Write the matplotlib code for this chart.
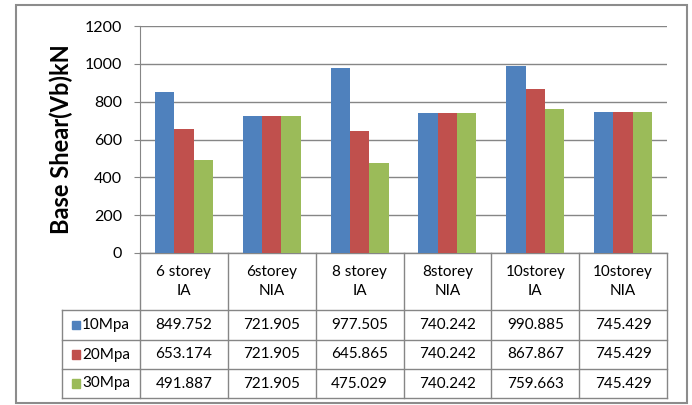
import numpy as np
import matplotlib.pyplot as plt
import matplotlib.transforms as mtransforms
from matplotlib.patches import Rectangle

plt.rcParams['font.family'] = ['Lato', 'DejaVu Sans']

#----------DATA----------
categories = ["6 storey\nIA", "6storey\nNIA", "8 storey\nIA", "8storey\nNIA", "10storey\nIA", "10storey\nNIA"]
series_names = ["10Mpa", "20Mpa", "30Mpa"]
mpa10 = [849.752, 721.905, 977.505, 740.242, 990.885, 745.429]
mpa20 = [653.174, 721.905, 645.865, 740.242, 867.867, 745.429]
mpa30 = [491.887, 721.905, 475.029, 740.242, 759.663, 745.429]
y_ticks = [0, 200, 400, 600, 800, 1000, 1200]

colors = ["#4F81BD", "#C0504D", "#9BBB59"]
grid_col = "#868686"

W, H = 692, 405
fig = plt.figure(figsize=(W / 100, H / 100), dpi=100)

# plot area in pixels
left, right, top, bottom = 140, 667, 26, 253
ax = fig.add_axes([left / W, 1 - bottom / H, (right - left) / W, (bottom - top) / H])

x = np.arange(len(categories))
bw = 0.22
all_series = [mpa10, mpa20, mpa30]
for i, vals in enumerate(all_series):
    ax.bar(x + (i - 1) * bw, vals, width=bw, color=colors[i], zorder=3)

ax.set_xlim(-0.5, len(categories) - 0.5)
ax.set_ylim(0, 1200)
ax.set_yticks(y_ticks)
ax.set_xticks([])
ax.tick_params(axis='y', labelsize=11.5, color=grid_col, length=4, pad=9)
ax.yaxis.grid(True, color=grid_col, linewidth=1, zorder=0)
for s in ["top", "right", "bottom"]:
    ax.spines[s].set_visible(False)
ax.spines["left"].set_color(grid_col)
ax.set_ylabel("Base Shear(Vb)kN", fontsize=17, fontweight="bold", labelpad=8)

#----------DATA TABLE----------
trans = mtransforms.blended_transform_factory(ax.transData, ax.transAxes)
ax_h = bottom - top

def ypos(py):
    return (bottom - py) / ax_h

header_bot = ypos(310)
row_lines = [ypos(310), ypos(340), ypos(369), ypos(398)]
x_leg = -0.5 - (left - 62) / ((right - left) / len(categories))
line_kw = dict(color=grid_col, linewidth=1, transform=trans, clip_on=False)

# horizontal lines
ax.plot([-0.5, len(categories) - 0.5], [0, 0], **line_kw)
for yy in row_lines:
    ax.plot([x_leg, len(categories) - 0.5], [yy, yy], **line_kw)
# vertical lines
for b in np.arange(len(categories) + 1) - 0.5:
    ax.plot([b, b], [0, row_lines[-1]], **line_kw)
ax.plot([x_leg, x_leg], [row_lines[0], row_lines[-1]], **line_kw)

# header text
for i, cat in enumerate(categories):
    ax.text(x[i], (0 + header_bot) / 2, cat, transform=trans, ha="center", va="center",
            fontsize=11, linespacing=1.4, clip_on=False)

# rows
for r, (name, vals) in enumerate(zip(series_names, all_series)):
    yc = (row_lines[r] + row_lines[r + 1]) / 2
    ax.add_patch(Rectangle((x_leg + 0.11, yc - 0.018), 0.09, 0.036,
                           transform=trans, color=colors[r], clip_on=False))
    ax.text(x_leg + 0.23, yc, name, transform=trans, ha="left", va="center",
            fontsize=11, clip_on=False)
    for i, v in enumerate(vals):
        ax.text(x[i], yc, f"{v:.3f}", transform=trans, ha="center", va="center",
                fontsize=11, clip_on=False)

# outer chart border
fig.patches.append(Rectangle((16 / W, 1 - 403 / H), (687 - 16) / W, (403 - 5) / H,
                             transform=fig.transFigure, fill=False,
                             edgecolor="#8C8C8C", linewidth=1.5))

fig.savefig("out.png", dpi=100)
